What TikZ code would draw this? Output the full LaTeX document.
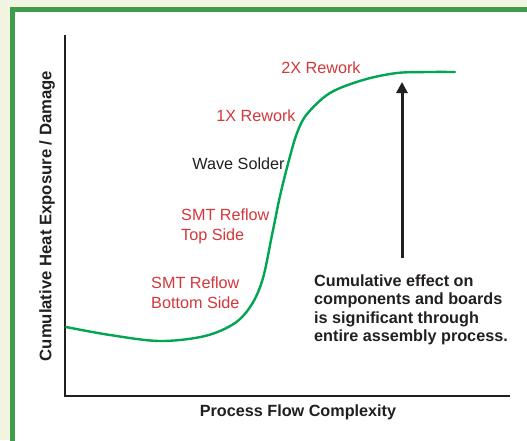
\documentclass[tikz,border=0pt]{standalone}
\usepackage{fontspec}
\setmainfont{Liberation Sans}
\usetikzlibrary{arrows.meta}
\definecolor{bgcream}{HTML}{F1F5DF}
\definecolor{framegreen}{HTML}{3E9C4A}
\definecolor{curvegreen}{HTML}{00A651}
\definecolor{labelred}{HTML}{D2383C}
\definecolor{axisblack}{HTML}{231F20}
\tikzset{
  lbl/.style={font=\fontsize{16.2}{19.5}\selectfont, inner sep=0pt, align=left},
  redlbl/.style={lbl, text=labelred},
  blklbl/.style={lbl, text=axisblack},
  boldlbl/.style={lbl, text=axisblack, font=\fontsize{16.2}{18.5}\selectfont\bfseries},
  axisline/.style={draw=axisblack, line width=2.2pt},
}
\begin{document}
\begin{tikzpicture}[x=1pt,y=-1pt]
\useasboundingbox (0,0) rectangle (527,440);
\fill[bgcream] (0,0) rectangle (527,440);
\fill[white] (12.5,9.5) rectangle (527,440);
\draw[framegreen, line width=5pt] (12.5,445) -- (12.5,9.5) -- (532,9.5);
% axes
\coordinate (ytop) at (65,35);
\coordinate (origin) at (65,396);
\coordinate (xend) at (510,396);
\draw[axisline] (ytop) -- (origin) -- (xend);
% curve
\draw[curvegreen, line width=2.4pt, line cap=round]
  plot[smooth, tension=0.55] coordinates {(66,327) (110,335) (160,341) (205,336) (235,323) (252,304) (263,278) (272,235) (280,196) (289,160) (297,133) (307,114) (330,93) (363,80) (397,73) (430,72) (455,72)};
% arrow
\coordinate (arrbot) at (402,258);
\coordinate (arrtop) at (402,82);
\draw[axisblack, line width=3pt, -{Triangle[length=11pt,width=11pt]}] (arrbot) -- (arrtop);
% labels
\node[redlbl, anchor=center] (rw2) at (321,68) {2X Rework};
\node[redlbl, anchor=center] (rw1) at (256,116) {1X Rework};
\node[blklbl, anchor=center] (wave) at (238.5,164) {Wave Solder};
\node[redlbl, anchor=west] (smttop) at (181,226.5) {SMT Reflow\\Top Side};
\node[redlbl, anchor=west] (smtbot) at (151,292.5) {SMT Reflow\\Bottom Side};
\node[boldlbl, anchor=west] (note) at (314,310) {Cumulative effect on\\components and boards\\is significant through\\entire assembly process.};
\node[boldlbl, anchor=center] (xlab) at (298,412) {Process Flow Complexity};
\node[boldlbl, anchor=center, rotate=90, font=\fontsize{16.7}{19}\selectfont\bfseries] (ylab) at (47,216) {Cumulative Heat Exposure / Damage};
\end{tikzpicture}
\end{document}
